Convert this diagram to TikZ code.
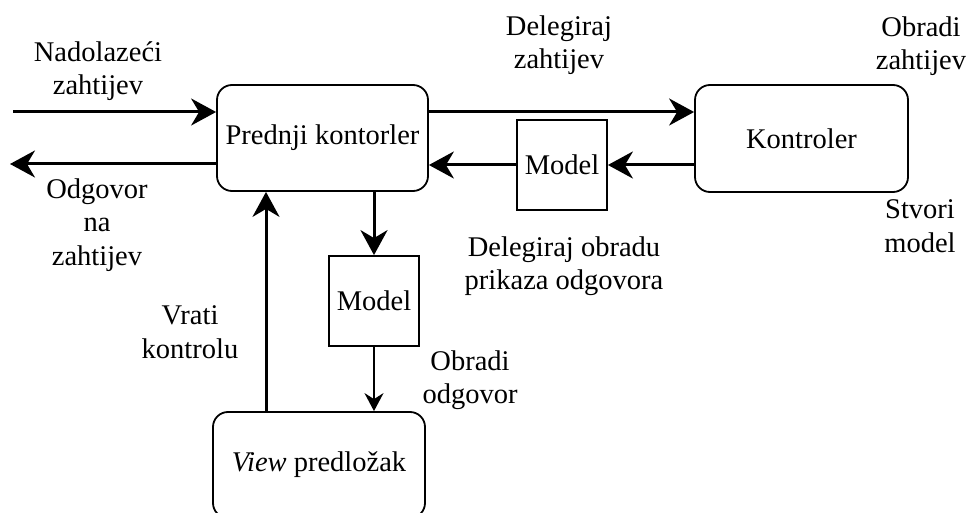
\documentclass[tikz,border=0pt]{standalone}
\usepackage{fontspec}
\setmainfont{Liberation Serif}
\usetikzlibrary{arrows.meta}
\begin{document}
\begin{tikzpicture}[x=1pt,y=-1pt,
  every node/.style={font=\fontsize{28.5}{33.5}\selectfont},
  roundbox/.style={draw, line width=1.8pt, rounded corners=15pt, minimum width=211pt, minimum height=106pt, inner sep=0pt},
  sqbox/.style={draw, line width=1.8pt, minimum width=90pt, minimum height=90pt, inner sep=0pt},
  lbl/.style={align=center, inner sep=0pt},
  bigarrow/.style={line width=3pt, -{Stealth[length=25pt,width=27pt,inset=8pt]}},
  smallarrow/.style={line width=1.5pt, -{Stealth[length=18pt,width=19pt,inset=6pt]}}
]
\fill[white] (0,0) rectangle (969,513);
\clip (0,0) rectangle (969,513);
% boxes
\node[roundbox] (prednji) at (322.5,138) {Prednji kontorler};
\node[roundbox, minimum width=213pt, minimum height=107pt] (kontroler) at (801.5,138.5) {Kontroler};
\node[sqbox] (model1) at (562,165) {Model};
\node[sqbox] (model2) at (374,301) {Model};
\node[roundbox, minimum width=212pt] (view) at (319,465) {\textit{View} predložak};
% free ends
\coordinate (inStart) at (13,112);
\coordinate (outEnd) at (10,164);
% connectors
\draw[bigarrow] (inStart) -- (inStart -| prednji.west);
\draw[bigarrow] (prednji.west |- outEnd) -- (outEnd);
\draw[bigarrow] (prednji.east |- inStart) -- (kontroler.west |- inStart);
\draw[bigarrow] (kontroler.west |- model1) -- (model1.east);
\draw[bigarrow] (model1.west) -- (prednji.east |- model1);
\draw[bigarrow] (prednji.south -| model2) -- (model2.north);
\draw[smallarrow] (model2.south) -- (model2 |- view.north);
\coordinate (vratiX) at (266,0);
\draw[bigarrow] (vratiX |- view.north) -- (vratiX |- prednji.south);
% labels
\node[lbl] (lblIn) at (98,71) {Nadolazeći\\zahtijev};
\node[lbl] (lblOut) at (97,225) {Odgovor\\na\\zahtijev};
\node[lbl] (lblDel) at (559,45) {Delegiraj\\zahtijev};
\node[lbl] (lblObr) at (921,46) {Obradi\\zahtijev};
\node[lbl] (lblStv) at (920,226) {Stvori\\model};
\node[lbl] (lblDelOb) at (564,266) {Delegiraj obradu\\prikaza odgovora};
\node[lbl] (lblVrati) at (190,332) {Vrati\\kontrolu};
\node[lbl] (lblObrOd) at (470,380) {Obradi\\odgovor};
\end{tikzpicture}
\end{document}
